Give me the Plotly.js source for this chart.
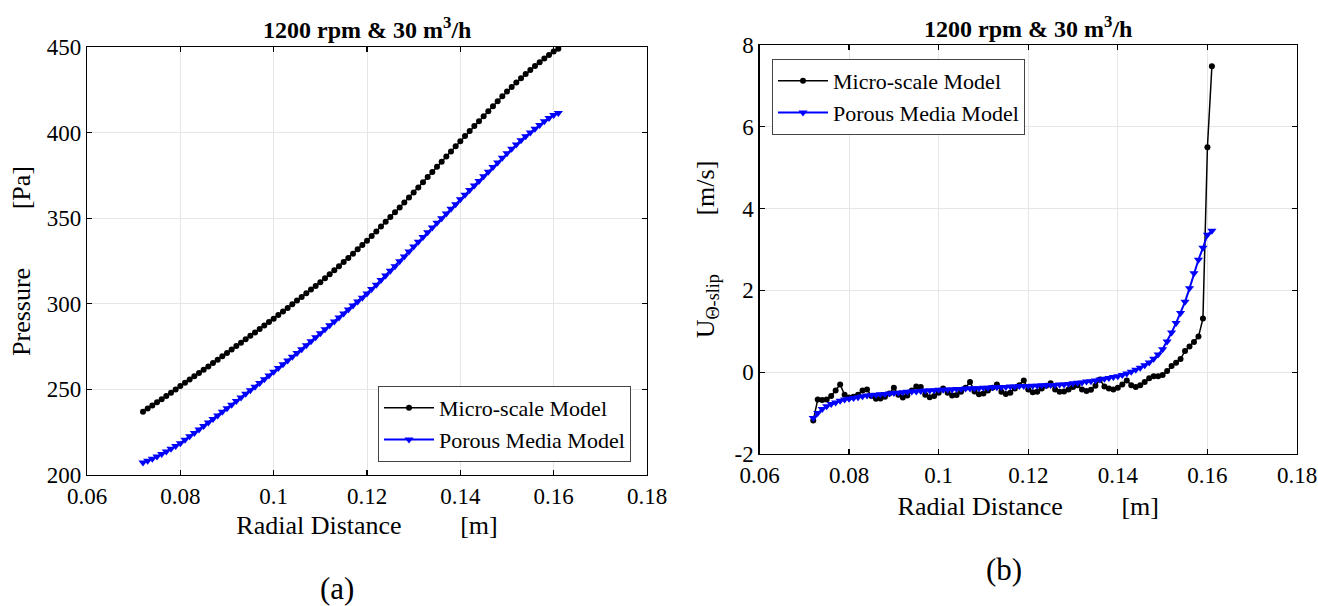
<!DOCTYPE html>
<html>
<head>
<meta charset="utf-8">
<script src="https://cdn.plot.ly/plotly-3.0.1.min.js"></script>
<style>html,body{margin:0;padding:0;background:#fff;}#chart{width:1318px;height:606px;}</style>
</head>
<body>
<div id="chart"></div>
<script>
// Radial positions (m)
const radialDistance = [
  0.072,0.073,0.074,0.075,0.076,0.077,0.078,0.079,0.080,0.081,
  0.082,0.083,0.084,0.085,0.086,0.087,0.088,0.089,0.090,0.091,
  0.092,0.093,0.094,0.095,0.096,0.097,0.098,0.099,0.100,0.101,
  0.102,0.103,0.104,0.105,0.106,0.107,0.108,0.109,0.110,0.111,
  0.112,0.113,0.114,0.115,0.116,0.117,0.118,0.119,0.120,0.121,
  0.122,0.123,0.124,0.125,0.126,0.127,0.128,0.129,0.130,0.131,
  0.132,0.133,0.134,0.135,0.136,0.137,0.138,0.139,0.140,0.141,
  0.142,0.143,0.144,0.145,0.146,0.147,0.148,0.149,0.150,0.151,
  0.152,0.153,0.154,0.155,0.156,0.157,0.158,0.159,0.160,0.161
];
// (a) Pressure [Pa]
const pressureMicro = [
  237.0,238.8,240.6,242.5,244.3,246.2,248.1,250.0,252.0,253.9,
  255.8,257.7,259.6,261.5,263.4,265.4,267.3,269.3,271.3,273.3,
  275.3,277.3,279.3,281.3,283.3,285.3,287.3,289.3,291.3,293.4,
  295.5,297.6,299.7,301.9,304.0,306.1,308.3,310.4,312.6,314.9,
  317.2,319.6,322.0,324.4,326.8,329.3,331.8,334.3,336.9,339.6,
  342.3,345.1,347.9,350.7,353.5,356.3,359.2,362.1,365.0,368.0,
  371.0,374.0,377.0,380.0,383.0,386.0,389.0,392.0,395.0,398.0,
  400.9,403.8,406.7,409.6,412.5,415.4,418.3,421.2,424.0,426.6,
  429.2,431.7,434.2,436.6,438.9,441.1,443.3,445.4,447.4,449.0
];
const pressurePorous = [
  207.3,208.3,209.5,210.8,212.2,213.7,215.3,216.9,218.6,220.6,
  222.6,224.6,226.6,228.6,230.7,232.7,234.8,236.9,239.0,241.1,
  243.2,245.3,247.4,249.5,251.6,253.7,255.9,258.1,260.3,262.5,
  264.7,266.9,269.1,271.3,273.5,275.8,278.1,280.4,282.8,285.1,
  287.4,289.7,292.0,294.3,296.6,299.0,301.3,303.6,306.0,308.6,
  311.2,313.9,316.6,319.3,322.0,324.8,327.6,330.5,333.4,336.2,
  339.0,341.8,344.5,347.3,350.0,352.8,355.5,358.2,361.0,363.7,
  366.4,369.1,371.8,374.5,377.2,379.9,382.6,385.3,388.0,390.6,
  393.1,395.5,397.8,400.0,402.2,404.4,406.6,408.6,410.3,411.5
];
// (b) U_theta-slip [m/s]
const slipMicro = [
  -1.18,-0.67,-0.68,-0.67,-0.58,-0.45,-0.30,-0.55,-0.62,-0.60,
  -0.55,-0.45,-0.42,-0.58,-0.65,-0.64,-0.60,-0.52,-0.38,-0.55,
  -0.62,-0.57,-0.45,-0.35,-0.36,-0.55,-0.61,-0.58,-0.50,-0.40,
  -0.50,-0.57,-0.56,-0.48,-0.38,-0.24,-0.47,-0.54,-0.52,-0.45,
  -0.38,-0.30,-0.48,-0.53,-0.50,-0.40,-0.32,-0.20,-0.42,-0.49,
  -0.48,-0.40,-0.33,-0.27,-0.42,-0.48,-0.47,-0.42,-0.36,-0.32,
  -0.42,-0.46,-0.43,-0.33,-0.18,-0.35,-0.40,-0.42,-0.38,-0.30,
  -0.20,-0.32,-0.36,-0.32,-0.24,-0.15,-0.10,-0.10,-0.07,0.03,
  0.15,0.23,0.32,0.52,0.63,0.74,0.87,1.31,5.50,7.48
];
const slipPorous = [
  -1.12,-1.00,-0.90,-0.83,-0.78,-0.74,-0.70,-0.67,-0.65,-0.63,
  -0.61,-0.59,-0.57,-0.56,-0.55,-0.54,-0.53,-0.52,-0.51,-0.50,
  -0.49,-0.48,-0.47,-0.47,-0.46,-0.45,-0.45,-0.44,-0.43,-0.43,
  -0.42,-0.42,-0.41,-0.41,-0.40,-0.40,-0.39,-0.39,-0.38,-0.38,
  -0.37,-0.37,-0.36,-0.36,-0.35,-0.35,-0.34,-0.34,-0.34,-0.33,
  -0.33,-0.32,-0.32,-0.31,-0.31,-0.30,-0.30,-0.29,-0.27,-0.26,
  -0.25,-0.23,-0.22,-0.20,-0.18,-0.16,-0.14,-0.12,-0.10,-0.07,
  -0.03,0.01,0.06,0.11,0.17,0.24,0.33,0.43,0.56,0.75,
  0.97,1.20,1.45,1.72,2.05,2.42,2.75,3.04,3.36,3.46
];
// Tick labels
const xTickVals = [0.06,0.08,0.10,0.12,0.14,0.16,0.18];
const xTickText = ['0.06','0.08','0.1','0.12','0.14','0.16','0.18'];
const pTickVals = [200,250,300,350,400,450];
const pTickText = ['200','250','300','350','400','450'];
const uTickVals = [-2,0,2,4,6,8];
const uTickText = ['-2','0','2','4','6','8'];
const seriesNames = ['Micro-scale Model','Porous Media Model'];
const chartTitle = '1200 rpm &amp; 30 m<sup>3</sup>/h';
const nb = '\u00a0'.repeat(9);

const FONT = 'Liberation Serif, Times New Roman, serif';
const microStyle = {color:'#000000', width:1.5};
const porousStyle = {color:'#0000ff', width:2};

const traces = [
  {x: radialDistance, y: pressureMicro, name: seriesNames[0], type:'scatter', mode:'lines+markers',
   line: microStyle, marker:{symbol:'circle', size:6, color:'#000'}, xaxis:'x', yaxis:'y', legend:'legend'},
  {x: radialDistance, y: pressurePorous, name: seriesNames[1], type:'scatter', mode:'lines+markers',
   line: porousStyle, marker:{symbol:'triangle-down', size:8, color:'#0000ff'}, xaxis:'x', yaxis:'y', legend:'legend'},
  {x: radialDistance, y: slipMicro, name: seriesNames[0], type:'scatter', mode:'lines+markers',
   line: microStyle, marker:{symbol:'circle', size:6, color:'#000'}, xaxis:'x2', yaxis:'y2', legend:'legend2'},
  {x: radialDistance, y: slipPorous, name: seriesNames[1], type:'scatter', mode:'lines+markers',
   line: porousStyle, marker:{symbol:'triangle-down', size:8, color:'#0000ff'}, xaxis:'x2', yaxis:'y2', legend:'legend2'}
];

const W = 1318, H = 606;
function axisBase(){
  return {
    showline:true, linecolor:'#000', linewidth:1.2, mirror:'ticks',
    ticks:'inside', ticklen:5, tickwidth:1.2, tickcolor:'#000',
    showgrid:true, gridcolor:'#e6e6e6', gridwidth:1, zeroline:false,
    tickfont:{family:FONT, size:23, color:'#000'},
    tickmode:'array'
  };
}
const xa = Object.assign(axisBase(), {
  domain:[87/W, 647/W], range:[0.06,0.18], tickvals:xTickVals, ticktext:xTickText,
  anchor:'y', title:{text:'Radial Distance'+nb+'[m]', font:{family:FONT,size:26,color:'#000'}, standoff:8}
});
const ya = Object.assign(axisBase(), {
  domain:[1-475/H, 1-47/H], range:[200,450], tickvals:pTickVals, ticktext:pTickText,
  anchor:'x', title:{text:'Pressure'+nb+'[Pa]', font:{family:FONT,size:26,color:'#000'}, standoff:8}
});
const xa2 = Object.assign(axisBase(), {
  domain:[759.5/W, 1297/W], range:[0.06,0.18], tickvals:xTickVals, ticktext:xTickText,
  anchor:'y2', title:{text:'Radial Distance'+nb+'[m]', font:{family:FONT,size:26,color:'#000'}, standoff:10}
});
const ya2 = Object.assign(axisBase(), {
  domain:[1-454/H, 1-45/H], range:[-2,8], tickvals:uTickVals, ticktext:uTickText,
  anchor:'x2', title:{text:'U<sub>\u0398-slip</sub>'+nb+'[m/s]', font:{family:FONT,size:26,color:'#000'}, standoff:12}
});

const layout = {
  width:W, height:H, margin:{l:0,r:0,t:0,b:0,autoexpand:false},
  paper_bgcolor:'#fff', plot_bgcolor:'#fff',
  font:{family:FONT, color:'#000'},
  xaxis:xa, yaxis:ya, xaxis2:xa2, yaxis2:ya2,
  showlegend:true,
  legend:{x:631/W, xanchor:'right', y:1-462/H, yanchor:'bottom', bgcolor:'#fff',
    bordercolor:'#444', borderwidth:1, font:{family:FONT,size:22,color:'#000'}, itemwidth:50, tracegroupgap:0},
  legend2:{x:772/W, xanchor:'left', y:1-59/H, yanchor:'top', bgcolor:'#fff',
    bordercolor:'#444', borderwidth:1, font:{family:FONT,size:22,color:'#000'}, itemwidth:50, tracegroupgap:0},
  annotations:[
    {text:'<b>'+chartTitle+'</b>', xref:'paper', yref:'paper', x:367/W, y:1-28/H, xanchor:'center', yanchor:'middle',
     showarrow:false, font:{family:FONT,size:24,color:'#000'}},
    {text:'<b>'+chartTitle+'</b>', xref:'paper', yref:'paper', x:1028/W, y:1-27/H, xanchor:'center', yanchor:'middle',
     showarrow:false, font:{family:FONT,size:24,color:'#000'}},
    {text:'(a)', xref:'paper', yref:'paper', x:337/W, y:1-588/H, xanchor:'center', yanchor:'middle',
     showarrow:false, font:{family:FONT,size:31,color:'#000'}},
    {text:'(b)', xref:'paper', yref:'paper', x:1004/W, y:1-569/H, xanchor:'center', yanchor:'middle',
     showarrow:false, font:{family:FONT,size:31,color:'#000'}}
  ]
};

Plotly.newPlot('chart', traces, layout, {displayModeBar:false, staticPlot:true});
</script>
</body>
</html>
